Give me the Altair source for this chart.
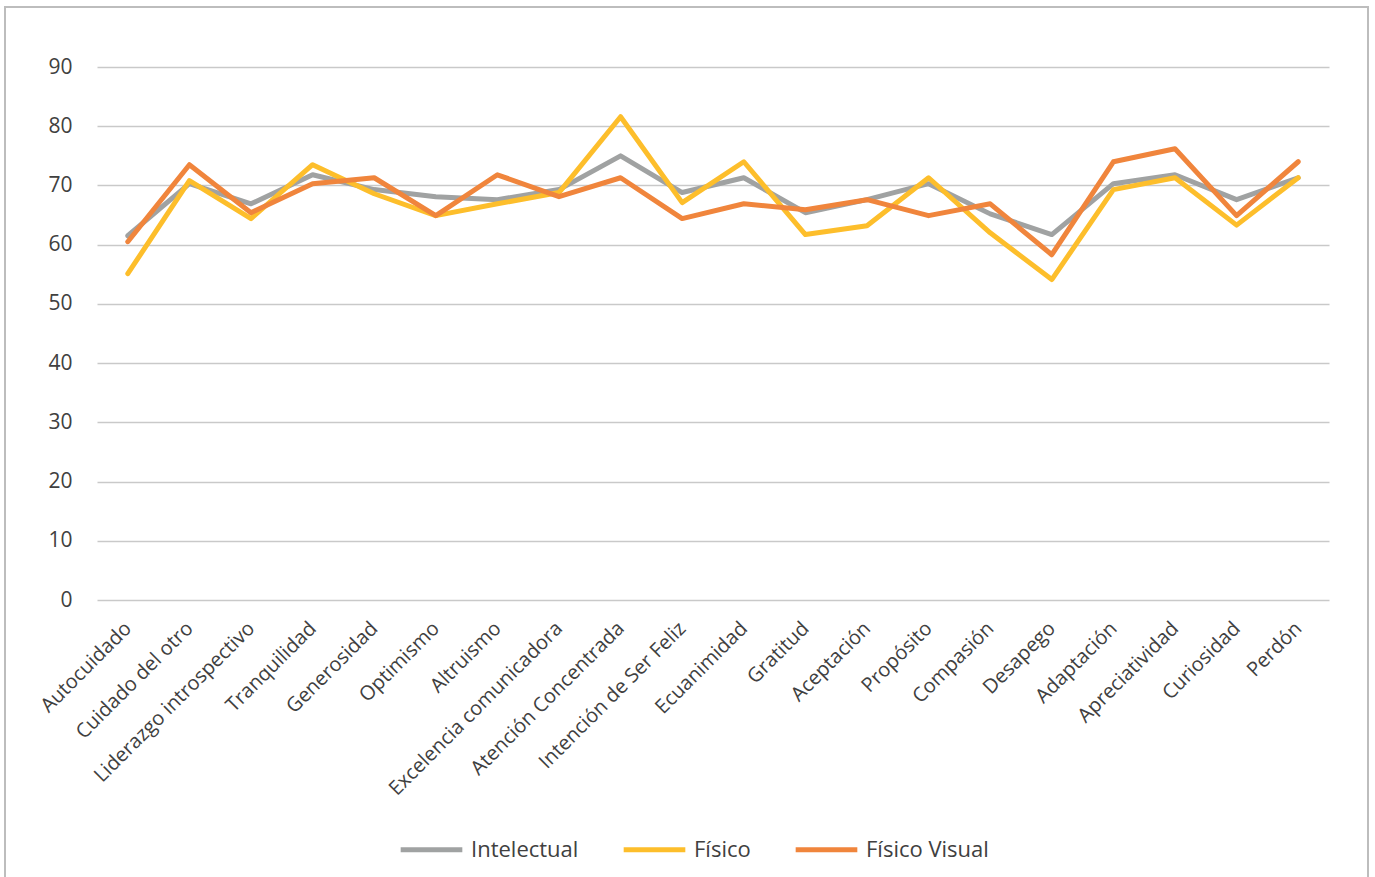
import altair as alt
import pandas as pd

categories = ["Autocuidado", "Cuidado del otro", "Liderazgo introspectivo", "Tranquilidad",
              "Generosidad", "Optimismo", "Altruismo", "Excelencia comunicadora",
              "Atención Concentrada", "Intención de Ser Feliz", "Ecuanimidad", "Gratitud",
              "Aceptación", "Propósito", "Compasión", "Desapego", "Adaptación",
              "Apreciatividad", "Curiosidad", "Perdón"]

intelectual = [61.5, 70.3, 66.9, 71.8, 69.3, 68.1, 67.6, 69.3, 75.0, 68.8,
               71.3, 65.4, 67.6, 70.3, 65.2, 61.7, 70.3, 71.8, 67.6, 71.3]
fisico = [55.1, 70.8, 64.4, 73.5, 68.6, 64.9, 66.9, 68.8, 81.6, 67.1,
          74.0, 61.7, 63.2, 71.3, 62.0, 54.1, 69.3, 71.3, 63.3, 71.3]
fisico_visual = [60.5, 73.5, 65.4, 70.3, 71.3, 64.9, 71.8, 68.1, 71.3, 64.4,
                 66.9, 65.9, 67.6, 64.9, 66.9, 58.3, 74.0, 76.2, 64.9, 74.0]

series_names = ["Intelectual", "Físico", "Físico Visual"]
series_colors = ["#A0A2A2", "#FDBE2B", "#F0853C"]

rows = []
for name, vals in zip(series_names, [intelectual, fisico, fisico_visual]):
    for c, v in zip(categories, vals):
        rows.append({"Categoria": c, "Valor": v, "Serie": name})
df = pd.DataFrame(rows)

FONT = "Open Sans"
TXT = "#404040"
LEFT = 97

color = alt.Color(
    "Serie:N",
    scale=alt.Scale(domain=series_names, range=series_colors),
    legend=alt.Legend(
        title=None, orient="none", direction="horizontal",
        legendX=398 - LEFT, legendY=749,
        symbolType="stroke", symbolSize=3800, symbolStrokeWidth=5,
        labelFont=FONT, labelFontSize=22, labelColor=TXT,
        columnPadding=34, labelOffset=6,
    ),
)

x = alt.X(
    "Categoria:N", sort=categories, title=None,
    scale=alt.Scale(type="point", padding=0.5),
    axis=alt.Axis(labelAngle=-45, labelFont=FONT, labelFontSize=20, labelColor=TXT,
                  ticks=False, domain=False, grid=False, labelPadding=25,
                  labelAlign="right", labelBaseline="middle", labelLimit=0),
)
y = alt.Y(
    "Valor:Q", title=None,
    scale=alt.Scale(domain=[0, 90], nice=False),
    axis=alt.Axis(values=list(range(0, 100, 10)), labelFont=FONT, labelFontSize=21,
                  labelColor=TXT, ticks=False, domain=False, grid=True,
                  gridColor="#C9C9C9", gridWidth=1.3, labelPadding=25),
)

layers = []
for name in series_names:
    layers.append(
        alt.Chart(df).transform_filter(alt.datum.Serie == name)
        .mark_line(strokeWidth=5, strokeCap="round", strokeJoin="round")
        .encode(x=x, y=y, color=color)
    )

frame = alt.Chart(pd.DataFrame({"a": [0]})).mark_rect(
    fill="white", fillOpacity=0, stroke="#BDBDBD", strokeWidth=2
).encode(x=alt.value(5 - LEFT), x2=alt.value(1368 - LEFT), y=alt.value(-60), y2=alt.value(815))

chart = alt.layer(frame, *layers).properties(
    width=1232, height=533,
    padding={"left": LEFT, "top": 67, "right": 1375 - LEFT - 1232, "bottom": 277},
    autosize=alt.AutoSizeParams(type="none"),
    background="white",
).configure_view(stroke=None)

chart.save("out.html", embed_options={"renderer": "svg", "actions": False})
